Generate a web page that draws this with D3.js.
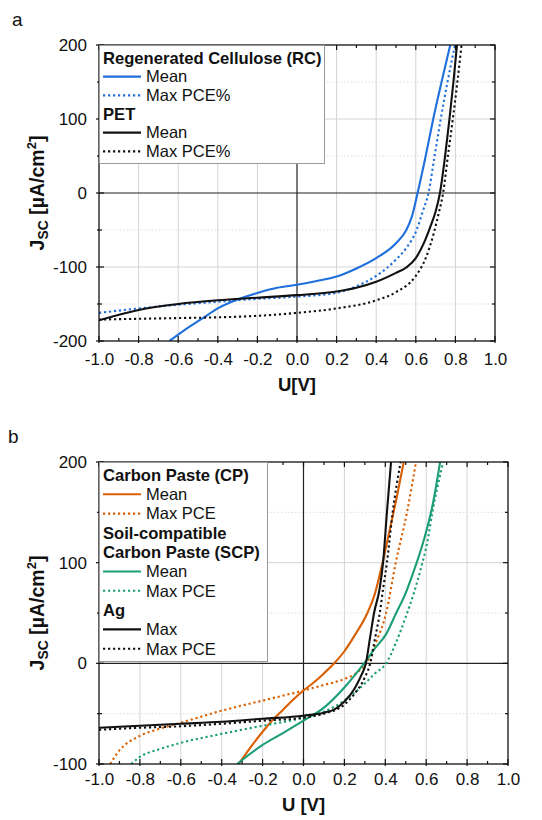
<!DOCTYPE html>
<html>
<head>
<meta charset="utf-8">
<script src="https://cdn.jsdelivr.net/npm/d3@7"></script>
<style>
    body { margin: 0; background: #fff; }
    svg text { font-family: "Liberation Sans", Arial, sans-serif; fill: #111; }
</style>
</head>
<body>
<script>
    // ---- panel a : substrates ----
    let rcMeanU = [-0.644, -0.55, -0.47, -0.4, -0.3, -0.2, -0.1, 0.0, 0.1, 0.2, 0.3, 0.4, 0.5, 0.55, 0.58, 0.609, 0.65, 0.688, 0.73, 0.774];
    let rcMeanJ = [-200, -182, -168, -156, -144, -135, -128, -124, -119, -113, -102, -88, -68, -51, -32, 0, 50, 100, 150, 200];

    let rcMaxU = [-1.0, -0.8, -0.6, -0.4, -0.2, 0.0, 0.2, 0.3, 0.4, 0.5, 0.55, 0.604, 0.635, 0.664, 0.695, 0.726, 0.76, 0.798];
    let rcMaxJ = [-162, -156, -151, -147, -143, -140, -135, -126, -112, -90, -75, -50, -25, 0, 50, 100, 150, 200];

    let petMeanU = [-1.0, -0.8, -0.6, -0.4, -0.2, 0.0, 0.2, 0.3, 0.4, 0.5, 0.55, 0.6, 0.64, 0.67, 0.7, 0.722, 0.748, 0.77, 0.79, 0.808];
    let petMeanJ = [-172, -158, -150, -145, -141.5, -138, -133, -128, -120, -108, -101, -88, -68, -48, -25, 0, 50, 100, 150, 200];

    let petMaxU = [-1.0, -0.8, -0.6, -0.4, -0.2, 0.0, 0.2, 0.4, 0.5, 0.6, 0.65, 0.69, 0.715, 0.738, 0.762, 0.787, 0.81, 0.831];
    let petMaxJ = [-171, -170, -169, -168, -166, -162, -156, -145, -134, -112, -88, -55, -28, 0, 50, 100, 150, 200];

    // ---- panel b : electrodes ----
    let cpMeanU = [-0.317, -0.25, -0.2, -0.15, -0.1, -0.05, 0.0, 0.05, 0.1, 0.15, 0.2, 0.248, 0.31, 0.349, 0.381, 0.42, 0.459, 0.49];
    let cpMeanJ = [-100, -81, -68, -56, -46, -36, -27, -19, -10, 0, 12, 27, 49, 69, 95, 131, 168, 200];

    let cpMaxU = [-0.945, -0.906, -0.8, -0.72, -0.6, -0.4, -0.2, 0.0, 0.09, 0.2, 0.263, 0.31, 0.357, 0.404, 0.451, 0.506, 0.55];
    let cpMaxJ = [-100, -88, -72, -66, -59, -47, -37, -27, -22, -15.5, -9, 1, 22, 50, 100, 150, 200];

    let scpMeanU = [-0.325, -0.2, -0.09, 0.0, 0.1, 0.2, 0.25, 0.3, 0.35, 0.404, 0.451, 0.498, 0.545, 0.592, 0.632, 0.668];
    let scpMeanJ = [-100, -81, -68, -57, -44, -24, -12, 1, 15, 29, 49, 69, 95, 125, 158, 200];

    let scpMaxU = [-0.843, -0.8, -0.7, -0.6, -0.4, -0.2, 0.0, 0.1, 0.2, 0.3, 0.35, 0.404, 0.451, 0.498, 0.54, 0.575, 0.605, 0.63, 0.655, 0.683];
    let scpMaxJ = [-100, -93, -85, -79, -70, -62, -54, -48, -37, -20, -10, 0, 20, 45, 70, 95, 120, 150, 175, 200];

    let agMaxU = [-1.0, -0.8, -0.6, -0.4, -0.2, 0.0, 0.1, 0.15, 0.2, 0.25, 0.28, 0.305, 0.325, 0.345, 0.373, 0.389, 0.408, 0.428];
    let agMaxJ = [-64, -62, -60, -58, -55, -52, -49, -46, -38, -25, -13, 0, 25, 50, 75, 100, 150, 200];

    let agPceU = [-1.0, -0.8, -0.6, -0.4, -0.2, 0.0, 0.1, 0.2, 0.25, 0.3, 0.326, 0.35, 0.373, 0.39, 0.408, 0.436, 0.475];
    let agPceJ = [-66, -64, -62.5, -60, -57, -54, -50, -41, -30, -14, 0, 25, 50, 75, 100, 150, 200];

    // ---- ticks ----
    let xTicks = [-1.0, -0.8, -0.6, -0.4, -0.2, 0.0, 0.2, 0.4, 0.6, 0.8, 1.0];
    let xMinor = [-0.9, -0.7, -0.5, -0.3, -0.1, 0.1, 0.3, 0.5, 0.7, 0.9];
    let yTicksA = [-200, -100, 0, 100, 200];
    let yMinorA = [-150, -50, 50, 150];
    let yTicksB = [-100, 0, 100, 200];
    let yMinorB = [-50, 50, 150];

    // ---- legends ----
    let legendA = ["Regenerated Cellulose (RC)", "Mean", "Max PCE%", "PET", "Mean", "Max PCE%"];
    let legendB = ["Carbon Paste (CP)", "Mean", "Max PCE", "Soil-compatible", "Carbon Paste (SCP)", "Mean", "Max PCE", "Ag", "Max", "Max PCE"];

    let blue = "#1f6fdc";
    let orange = "#d95f02";
    let green = "#1b9e77";
    let black = "#111";
    let dotted = "2.2,2.8";

    let W = 542, H = 820;
    let svg = d3.select("body").append("svg")
        .attr("width", W)
        .attr("height", H)
        .attr("viewBox", "0 0 " + W + " " + H);

    let zip = (us, js) => us.map((u, i) => [u, js[i]]);

    let panels = [
        {
            id: "a", letterX: 12, letterY: 26,
            left: 99, right: 495, top: 45, bottom: 341,
            yDomain: [-200, 200], yTicks: yTicksA, yMinor: yMinorA,
            xLabel: "U[V]", xLabelY: 391, xPad: 12,
            series: [
                { d: zip(rcMeanU, rcMeanJ), c: blue, dash: null },
                { d: zip(rcMaxU, rcMaxJ), c: blue, dash: dotted },
                { d: zip(petMeanU, petMeanJ), c: black, dash: null },
                { d: zip(petMaxU, petMaxJ), c: black, dash: dotted }
            ],
            legend: legendA,
            legendKeys: [null, [blue, null], [blue, dotted], null, [black, null], [black, dotted]],
            legendBox: [99, 45, 225, 118]
        },
        {
            id: "b", letterX: 8, letterY: 443,
            left: 99, right: 508, top: 462, bottom: 764,
            yDomain: [-100, 200], yTicks: yTicksB, yMinor: yMinorB,
            xLabel: "U [V]", xLabelY: 811, xPad: 9,
            series: [
                { d: zip(cpMeanU, cpMeanJ), c: orange, dash: null },
                { d: zip(cpMaxU, cpMaxJ), c: orange, dash: dotted },
                { d: zip(scpMeanU, scpMeanJ), c: green, dash: null },
                { d: zip(scpMaxU, scpMaxJ), c: green, dash: dotted },
                { d: zip(agMaxU, agMaxJ), c: black, dash: null },
                { d: zip(agPceU, agPceJ), c: black, dash: dotted }
            ],
            legend: legendB,
            legendKeys: [null, [orange, null], [orange, dotted], null, null, [green, null], [green, dotted], null, [black, null], [black, dotted]],
            legendBox: [99, 462, 168, 199]
        }
    ];

    let drawPanel = (p) => {
        let g = svg.append("g");
        let x = d3.scaleLinear().domain([-1, 1]).range([p.left, p.right]);
        let y = d3.scaleLinear().domain(p.yDomain).range([p.bottom, p.top]);

        g.append("text")
            .attr("x", p.letterX)
            .attr("y", p.letterY)
            .attr("font-size", 19)
            .text(p.id);

        // grid
        g.selectAll(".vgrid")
            .data(xTicks.filter(d => d !== 0 && Math.abs(d) !== 1))
            .enter()
            .append("line")
            .attr("x1", d => x(d)).attr("x2", d => x(d))
            .attr("y1", p.top).attr("y2", p.bottom)
            .attr("stroke", "#d4d4d4")
            .attr("stroke-width", 1);

        g.selectAll(".hgrid")
            .data(p.yTicks.filter(d => d !== 0 && d !== p.yDomain[0] && d !== p.yDomain[1]))
            .enter()
            .append("line")
            .attr("x1", p.left).attr("x2", p.right)
            .attr("y1", d => y(d)).attr("y2", d => y(d))
            .attr("stroke", "#d4d4d4")
            .attr("stroke-width", 1);

        g.selectAll(".hminor")
            .data(p.yMinor)
            .enter()
            .append("line")
            .attr("x1", p.left).attr("x2", p.right)
            .attr("y1", d => y(d)).attr("y2", d => y(d))
            .attr("stroke", "#dddddd")
            .attr("stroke-dasharray", "1.5,2")
            .attr("stroke-width", 1);

        // zero lines
        g.append("line")
            .attr("x1", x(0)).attr("x2", x(0))
            .attr("y1", p.top).attr("y2", p.bottom)
            .attr("stroke", "#222").attr("stroke-width", 1.2);
        g.append("line")
            .attr("x1", p.left).attr("x2", p.right)
            .attr("y1", y(0)).attr("y2", y(0))
            .attr("stroke", "#222").attr("stroke-width", 1.2);

        // curves
        let clipId = "clip-" + p.id;
        svg.append("clipPath")
            .attr("id", clipId)
            .append("rect")
            .attr("x", p.left).attr("y", p.top)
            .attr("width", p.right - p.left).attr("height", p.bottom - p.top);

        let line = d3.line()
            .x(d => x(d[0]))
            .y(d => y(d[1]))
            .curve(d3.curveMonotoneX);

        g.append("g")
            .attr("clip-path", "url(#" + clipId + ")")
            .selectAll("path")
            .data(p.series)
            .enter()
            .append("path")
            .attr("d", s => line(s.d))
            .attr("fill", "none")
            .attr("stroke", s => s.c)
            .attr("stroke-width", 2.1)
            .attr("stroke-dasharray", s => s.dash);

        // frame
        g.append("rect")
            .attr("x", p.left).attr("y", p.top)
            .attr("width", p.right - p.left).attr("height", p.bottom - p.top)
            .attr("fill", "none")
            .attr("stroke", "#111")
            .attr("stroke-width", 1.3);

        // tick marks, all four sides
        let tk = g.append("g").attr("stroke", "#111").attr("stroke-width", 1.2);
        let vt = (vals, len, out) => {
            vals.forEach(v => {
                tk.append("line").attr("x1", x(v)).attr("x2", x(v))
                    .attr("y1", p.bottom + out).attr("y2", p.bottom - len);
                tk.append("line").attr("x1", x(v)).attr("x2", x(v))
                    .attr("y1", p.top).attr("y2", p.top + len);
            });
        };
        let ht = (vals, len, out) => {
            vals.forEach(v => {
                tk.append("line").attr("y1", y(v)).attr("y2", y(v))
                    .attr("x1", p.left - out).attr("x2", p.left + len);
                tk.append("line").attr("y1", y(v)).attr("y2", y(v))
                    .attr("x1", p.right).attr("x2", p.right - len);
            });
        };
        vt(xTicks, 5, 2);
        vt(xMinor, 3, 0);
        ht(p.yTicks, 5, 3);
        ht(p.yMinor, 3, 2);

        // tick labels via axes
        let xAxis = d3.axisBottom(x)
            .tickValues(xTicks)
            .tickFormat(d => d.toFixed(1))
            .tickSize(0)
            .tickPadding(p.xPad);
        let gx = g.append("g")
            .attr("transform", "translate(0," + p.bottom + ")")
            .call(xAxis);
        gx.select(".domain").remove();
        gx.selectAll("text").attr("font-size", 17).attr("font-family", "Liberation Sans, Arial, sans-serif").attr("fill", "#111");

        let yAxis = d3.axisLeft(y)
            .tickValues(p.yTicks)
            .tickFormat(d => String(d))
            .tickSize(0)
            .tickPadding(12);
        let gy = g.append("g")
            .attr("transform", "translate(" + p.left + ",0)")
            .call(yAxis);
        gy.select(".domain").remove();
        gy.selectAll("text").attr("font-size", 17).attr("font-family", "Liberation Sans, Arial, sans-serif").attr("fill", "#111");

        // axis titles
        g.append("text")
            .attr("x", x(0))
            .attr("y", p.xLabelY)
            .attr("text-anchor", "middle")
            .attr("font-size", 18.5)
            .attr("font-weight", "bold")
            .text(p.xLabel);

        let yt = g.append("text")
            .attr("transform", "translate(44," + ((p.top + p.bottom) / 2) + ") rotate(-90)")
            .attr("text-anchor", "middle")
            .attr("font-size", 19.5)
            .attr("font-weight", "bold");
        yt.append("tspan").text("J");
        yt.append("tspan").attr("font-size", 14).attr("dy", 4).text("SC");
        yt.append("tspan").attr("dy", -4).text(" [µA/cm");
        yt.append("tspan").attr("font-size", 13).attr("dy", -8).text("2");
        yt.append("tspan").attr("dy", 8).text("]");

        // legend
        let lb = p.legendBox;
        g.append("rect")
            .attr("x", lb[0] + 0.5).attr("y", lb[1] + 0.5)
            .attr("width", lb[2]).attr("height", lb[3])
            .attr("fill", "#fff")
            .attr("stroke", "#9a9a9a")
            .attr("stroke-width", 1);

        let rowH = (lb[3] - 6) / p.legend.length;
        p.legend.forEach((label, i) => {
            let cy = lb[1] + 13 + i * rowH;
            let key = p.legendKeys[i];
            if (key) {
                g.append("line")
                    .attr("x1", lb[0] + 4).attr("x2", lb[0] + 42)
                    .attr("y1", cy).attr("y2", cy)
                    .attr("stroke", key[0])
                    .attr("stroke-width", 2.1)
                    .attr("stroke-dasharray", key[1]);
                g.append("text")
                    .attr("x", lb[0] + 47).attr("y", cy + 5.8)
                    .attr("font-size", 16.5)
                    .text(label);
            } else {
                g.append("text")
                    .attr("x", lb[0] + 4).attr("y", cy + 5.8)
                    .attr("font-size", 16.6)
                    .attr("font-weight", "bold")
                    .text(label);
            }
        });
    };

    panels.forEach(drawPanel);
</script>
</body>
</html>
